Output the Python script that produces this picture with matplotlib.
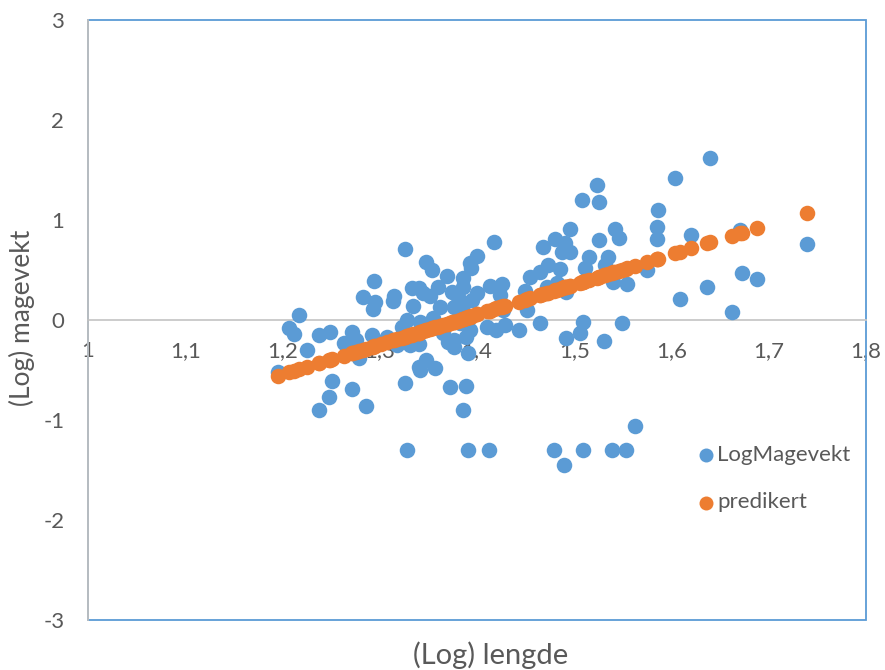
import matplotlib.pyplot as plt
from matplotlib.patches import Rectangle

# log length of each fish, with observed log stomach weight and the fitted value
lengde = [1.195, 1.207, 1.212, 1.217, 1.225, 1.238, 1.238, 1.248, 1.249, 1.251,
          1.263, 1.271, 1.272, 1.276, 1.279, 1.283, 1.286, 1.292, 1.293, 1.294,
          1.295, 1.301, 1.307, 1.314, 1.315, 1.318, 1.323, 1.326, 1.326, 1.328,
          1.328, 1.331, 1.333, 1.334, 1.340, 1.340, 1.340, 1.341, 1.341, 1.345,
          1.348, 1.348, 1.352, 1.354, 1.355, 1.357, 1.360, 1.362, 1.365, 1.369,
          1.370, 1.372, 1.374, 1.376, 1.376, 1.376, 1.380, 1.383, 1.386, 1.386,
          1.386, 1.386, 1.389, 1.389, 1.391, 1.391, 1.393, 1.393, 1.394, 1.395,
          1.400, 1.400, 1.410, 1.412, 1.413, 1.417, 1.420, 1.424, 1.426, 1.427,
          1.429, 1.443, 1.449, 1.451, 1.455, 1.465, 1.465, 1.468, 1.472, 1.473,
          1.479, 1.480, 1.482, 1.485, 1.487, 1.490, 1.491, 1.492, 1.492, 1.496,
          1.496, 1.506, 1.508, 1.509, 1.509, 1.511, 1.515, 1.523, 1.525, 1.525,
          1.531, 1.532, 1.535, 1.539, 1.540, 1.542, 1.546, 1.549, 1.553, 1.554,
          1.562, 1.575, 1.585, 1.585, 1.586, 1.604, 1.609, 1.620, 1.637, 1.640,
          1.662, 1.670, 1.673, 1.688, 1.739]

log_magevekt = [-0.52, -0.08, -0.14, 0.05, -0.30, -0.15, -0.90, -0.77, -0.12, -0.61,
                -0.23, -0.12, -0.69, -0.20, -0.38, 0.23, -0.86, -0.15, 0.11, 0.39,
                0.18, -0.22, -0.17, 0.19, 0.24, -0.25, -0.07, -0.63, 0.71, 0.00,
                -1.30, -0.25, 0.32, 0.14, 0.32, -0.47, -0.24, -0.50, -0.02, 0.27,
                -0.40, 0.58, 0.24, 0.50, 0.02, -0.48, 0.33, 0.13, -0.13, 0.44,
                -0.22, -0.67, 0.28, 0.13, -0.20, -0.27, 0.23, -0.03, 0.42, 0.33,
                0.15, -0.90, -0.17, -0.66, -0.33, -1.30, 0.57, -0.10, 0.52, 0.20,
                0.64, 0.27, -0.07, -1.30, 0.34, 0.78, -0.10, 0.25, 0.36, 0.10,
                -0.05, -0.10, 0.29, 0.10, 0.43, 0.48, -0.03, 0.73, 0.33, 0.55,
                -1.30, 0.81, 0.37, 0.51, 0.68, -1.45, 0.77, 0.28, -0.18, 0.91,
                0.68, -0.13, 1.20, -0.02, -1.30, 0.52, 0.63, 1.35, 1.18, 0.80,
                -0.21, 0.55, 0.63, -1.30, 0.38, 0.91, 0.82, -0.03, -1.30, 0.36,
                -1.06, 0.50, 0.93, 0.81, 1.10, 1.42, 0.21, 0.85, 0.33, 1.62,
                0.08, 0.90, 0.47, 0.41, 0.76]

predikert = [-0.56, -0.52, -0.51, -0.49, -0.47, -0.43, -0.43, -0.40, -0.40, -0.39,
             -0.36, -0.33, -0.33, -0.32, -0.31, -0.30, -0.29, -0.27, -0.27, -0.26,
             -0.26, -0.24, -0.22, -0.20, -0.20, -0.19, -0.18, -0.17, -0.17, -0.16,
             -0.16, -0.15, -0.15, -0.14, -0.13, -0.13, -0.13, -0.12, -0.12, -0.11,
             -0.10, -0.10, -0.09, -0.08, -0.08, -0.07, -0.07, -0.06, -0.05, -0.04,
             -0.04, -0.03, -0.02, -0.02, -0.02, -0.02, -0.01, 0.00, 0.01, 0.01,
             0.01, 0.01, 0.02, 0.02, 0.03, 0.03, 0.03, 0.03, 0.04, 0.04,
             0.06, 0.06, 0.09, 0.09, 0.09, 0.11, 0.12, 0.13, 0.13, 0.14,
             0.14, 0.18, 0.20, 0.21, 0.22, 0.25, 0.25, 0.26, 0.27, 0.27,
             0.29, 0.30, 0.30, 0.31, 0.32, 0.33, 0.33, 0.33, 0.33, 0.34,
             0.34, 0.37, 0.38, 0.38, 0.38, 0.39, 0.40, 0.42, 0.43, 0.43,
             0.45, 0.45, 0.46, 0.47, 0.48, 0.48, 0.49, 0.50, 0.51, 0.52,
             0.54, 0.58, 0.61, 0.61, 0.61, 0.67, 0.68, 0.72, 0.77, 0.78,
             0.84, 0.87, 0.87, 0.92, 1.07]

x_ticks = [1.0, 1.1, 1.2, 1.3, 1.4, 1.5, 1.6, 1.7, 1.8]
x_tick_labels = ['1', '1,1', '1,2', '1,3', '1,4', '1,5', '1,6', '1,7', '1,8']
y_ticks = [-3, -2, -1, 0, 1, 2, 3]

blue = '#5B9BD5'
orange = '#ED7D31'
grey = '#BFBFBF'
text_grey = '#595959'

plt.rcParams['font.family'] = ['Lato', 'DejaVu Sans']
plt.rcParams['axes.unicode_minus'] = False

fig = plt.figure(figsize=(8.85, 6.7), dpi=100)
ax = fig.add_axes([0.0994, 0.0746, 0.8791, 0.8955])

ax.scatter(lengde, log_magevekt, s=125, color=blue, linewidths=0,
           label='LogMagevekt', zorder=3)
ax.scatter(lengde, predikert, s=125, color=orange, linewidths=0,
           label='predikert', zorder=4)

ax.set_xlim(1.0, 1.8)
ax.set_ylim(-3, 3)
ax.set_xticks(x_ticks)
ax.set_xticklabels(x_tick_labels)
ax.set_yticks(y_ticks)
ax.tick_params(axis='both', length=0, labelsize=16, colors=text_grey)
ax.tick_params(axis='x', pad=15)
ax.tick_params(axis='y', pad=17)

# x axis sits on y = 0, plot area gets a blue frame
for side in ['top', 'right']:
    ax.spines[side].set_visible(False)
ax.spines['bottom'].set_position(('data', 0))
ax.spines['bottom'].set_color('#C8C8C8')
ax.spines['bottom'].set_linewidth(1.3)
ax.spines['left'].set_color(grey)
ax.spines['left'].set_linewidth(1.3)
ax.spines['left'].set_zorder(5)
ax.add_patch(Rectangle((0, 0), 1, 1, transform=ax.transAxes, fill=False,
                       edgecolor=blue, linewidth=1.3, clip_on=False, zorder=2))

fig.text(0.554, 0.022, '(Log) lengde', ha='center', va='center',
         fontsize=21, color=text_grey)
fig.text(0.025, 0.525, '(Log) magevekt', ha='center', va='center',
         rotation=90, fontsize=19, color=text_grey)

ax.legend(loc='upper left', bbox_to_anchor=(0.772, 0.307), frameon=False,
          fontsize=16, labelcolor=text_grey, markerscale=0.9,
          handlelength=0.8, handletextpad=0.1, labelspacing=1.25,
          borderaxespad=0)

fig.savefig('out.png', dpi=100, facecolor='white')
